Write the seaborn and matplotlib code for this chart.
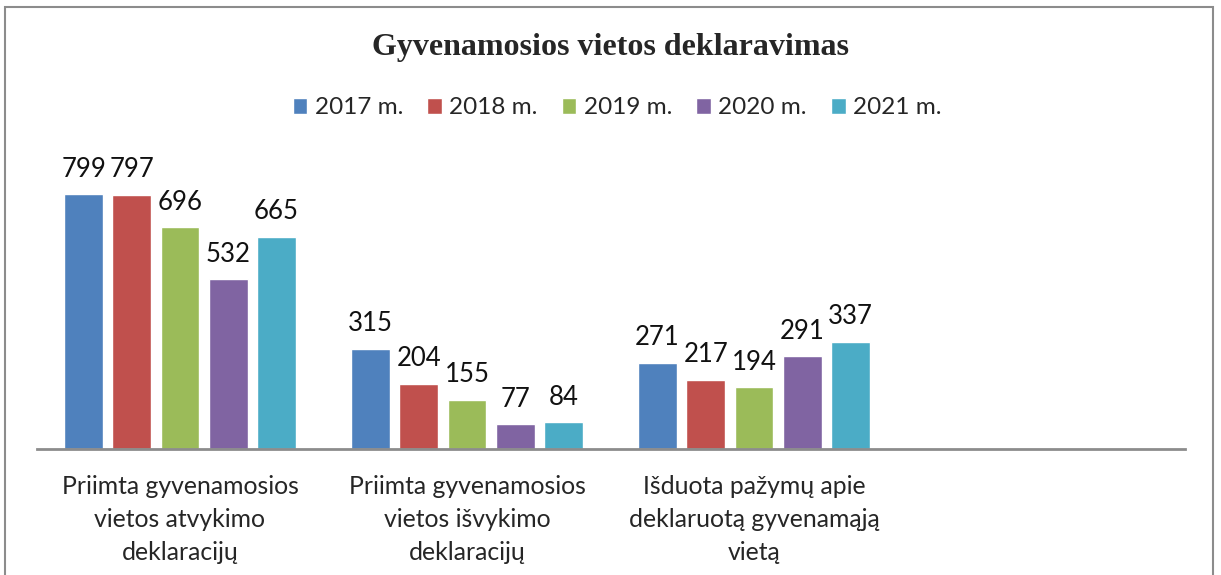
import matplotlib
matplotlib.use("Agg")
import matplotlib.pyplot as plt
from matplotlib.patches import Rectangle
import seaborn as sns
import pandas as pd

# chart values
categories = [
    "Priimta gyvenamosios\nvietos atvykimo\ndeklaracijų",
    "Priimta gyvenamosios\nvietos išvykimo\ndeklaracijų",
    "Išduota pažymų apie\ndeklaruotą gyvenamąją\nvietą",
]
years = ["2017 m.", "2018 m.", "2019 m.", "2020 m.", "2021 m."]
values_2017 = [799, 315, 271]
values_2018 = [797, 204, 217]
values_2019 = [696, 155, 194]
values_2020 = [532, 77, 291]
values_2021 = [665, 84, 337]
colors = ["#4F81BD", "#C0504D", "#9BBB59", "#8064A2", "#4BACC6"]

series = [values_2017, values_2018, values_2019, values_2020, values_2021]
rows = []
for year, vals in zip(years, series):
    for cat, v in zip(categories, vals):
        rows.append({"category": cat, "year": year, "value": v})
df = pd.DataFrame(rows)

sns.set_style("white")
plt.rcParams["font.family"] = ["Lato", "DejaVu Sans"]

fig = plt.figure(figsize=(12.21, 5.75), dpi=100)
ax = fig.add_axes([36.5 / 1221, 126 / 575, 1148 / 1221, 287 / 575])

sns.barplot(data=df, x="category", y="value", hue="year", order=categories,
            hue_order=years, palette=colors, width=0.84, gap=0.2,
            saturation=1, ax=ax, legend=True)

for cont in ax.containers:
    ax.bar_label(cont, fmt="%d", padding=9, fontsize=18.5, color="#111111")

ax.set_xlim(-0.5, 3.5)
ax.set_ylim(0, 900)
ax.set_xlabel("")
ax.set_ylabel("")
ax.set_yticks([])
ax.set_xticks(range(len(categories)))
ax.set_xticklabels(categories, fontsize=17.8, linespacing=1.52)
ax.tick_params(axis="x", length=0, pad=19)
for s in ["top", "left", "right"]:
    ax.spines[s].set_visible(False)
ax.spines["bottom"].set_color("#8c8c8c")
ax.spines["bottom"].set_linewidth(2)

handles, labels = ax.get_legend_handles_labels()
ax.legend(handles, labels, loc="center", bbox_to_anchor=(617 / 1221, 1 - 108 / 575),
          bbox_transform=fig.transFigure, ncol=5, frameon=False, fontsize=17.5,
          handlelength=0.6, handleheight=0.6, handletextpad=0.3, columnspacing=1.0)

fig.text(611 / 1221, 1 - 47 / 575, "Gyvenamosios vietos deklaravimas",
         ha="center", va="center", fontsize=23, fontweight="bold",
         family="Liberation Serif")

fig.patches.append(Rectangle((5 / 1221, -0.1), 1208 / 1221, 1.1 - 7 / 575,
                             transform=fig.transFigure, fill=False,
                             edgecolor="#8c8c8c", linewidth=1.5))

fig.savefig("out.png", dpi=100)
